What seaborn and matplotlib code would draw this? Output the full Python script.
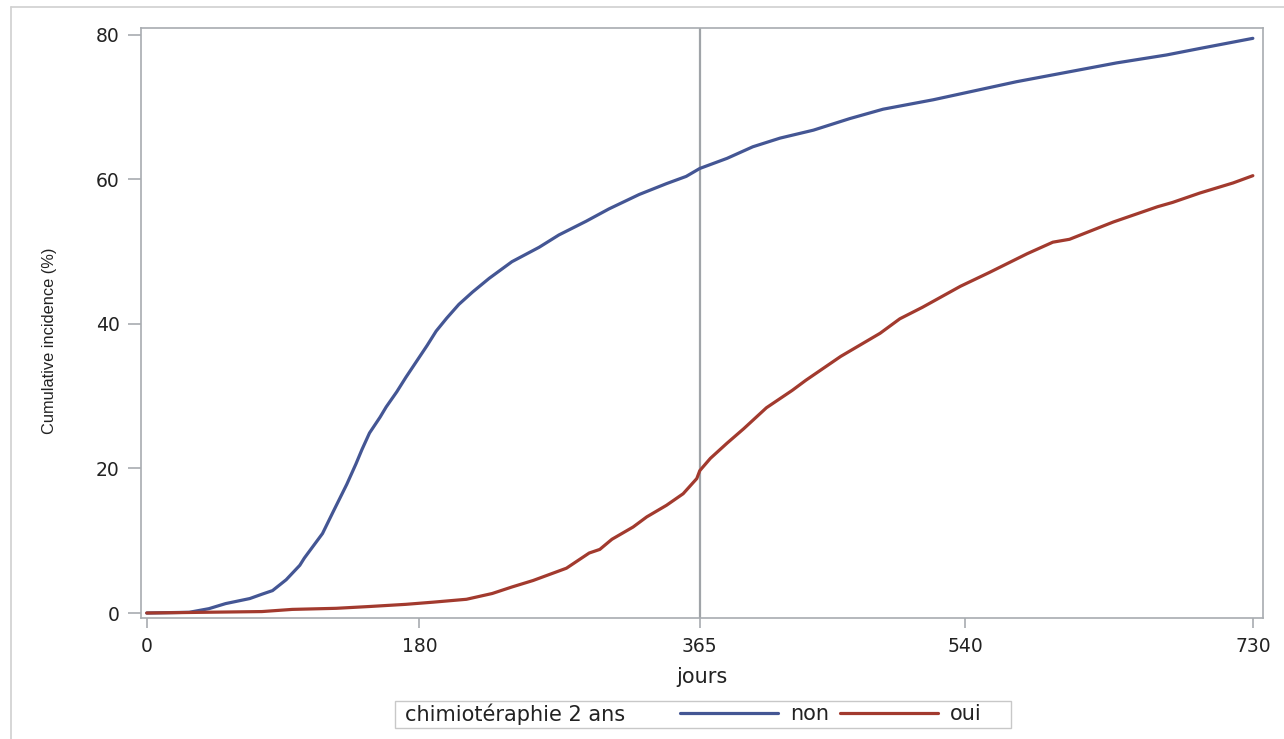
import pandas as pd
import matplotlib
matplotlib.use("Agg")
import matplotlib.pyplot as plt
from matplotlib.lines import Line2D
from matplotlib.patches import Rectangle
import seaborn as sns

# cumulative incidence (%), by day
days_non = [0, 28, 41, 52, 68, 76, 83, 92, 101, 104, 116, 123, 132, 138, 142,
            147, 154, 158, 165, 171, 178, 185, 191, 198, 206, 215, 226, 241,
            259, 272, 290, 305, 325, 343, 356, 365, 383, 400, 418, 440, 464,
            486, 519, 552, 574, 607, 640, 673, 695, 730]
incidence_non = [0, 0.1, 0.6, 1.3, 2.0, 2.6, 3.1, 4.6, 6.6, 7.6, 11.0, 14.0,
                 17.8, 20.6, 22.6, 24.9, 27.1, 28.5, 30.6, 32.6, 34.8, 37.0,
                 39.0, 40.8, 42.7, 44.4, 46.3, 48.6, 50.6, 52.3, 54.2, 55.9,
                 57.9, 59.4, 60.4, 61.5, 62.9, 64.5, 65.7, 66.8, 68.4, 69.7,
                 71.0, 72.5, 73.5, 74.8, 76.1, 77.2, 78.1, 79.5]

days_oui = [0, 76, 96, 125, 147, 171, 189, 211, 228, 241, 255, 277, 292, 299,
            307, 321, 330, 343, 354, 363, 365, 372, 383, 394, 409, 426, 435,
            458, 484, 497, 512, 537, 556, 581, 598, 609, 638, 667, 677, 695,
            717, 730]
incidence_oui = [0, 0.2, 0.5, 0.65, 0.9, 1.2, 1.5, 1.9, 2.7, 3.6, 4.5, 6.2,
                 8.3, 8.8, 10.2, 11.9, 13.3, 14.9, 16.5, 18.6, 19.7, 21.4,
                 23.5, 25.5, 28.4, 30.8, 32.2, 35.5, 38.7, 40.7, 42.3, 45.2,
                 47.1, 49.7, 51.3, 51.7, 54.1, 56.2, 56.8, 58.1, 59.5, 60.5]

groups = ["non", "oui"]
group_colors = ["#445694", "#A23A2E"]
x_ticks = [0, 180, 365, 540, 730]
y_ticks = [0, 20, 40, 60, 80]
landmark_day = 365
legend_title = "chimiotéraphie 2 ans"

sns.set_theme(style="white")
plt.rcParams['font.family'] = ['DejaVu Sans']

df = pd.concat([
    pd.DataFrame({"jours": days_non, "incidence": incidence_non, "chimio": "non"}),
    pd.DataFrame({"jours": days_oui, "incidence": incidence_oui, "chimio": "oui"}),
])
palette = dict(zip(groups, group_colors))
axis_gray = "#A8ACB0"
text_col = "#222222"

W, H = 1284, 739
fig = plt.figure(figsize=(W / 100, H / 100), dpi=100)
ax = fig.add_axes([141 / W, 1 - 618 / H, (1263 - 141) / W, (618 - 27.5) / H])

ax.axvline(landmark_day, color="#A0A4A8", linewidth=1.6, zorder=1)
sns.lineplot(data=df, x="jours", y="incidence", hue="chimio", palette=palette,
             linewidth=2.3, estimator=None, sort=False, legend=False, ax=ax,
             zorder=3)

ax.set_xlim(-3.8, 736.7)
ax.set_ylim(-0.69, 81.0)
ax.set_xticks(x_ticks)
ax.set_yticks(y_ticks)
for sp in ax.spines.values():
    sp.set_color(axis_gray)
    sp.set_linewidth(1.2)
ax.tick_params(axis="both", direction="out", color=axis_gray, width=1.2,
               labelsize=13.5, labelcolor=text_col, bottom=True, left=True)
ax.tick_params(axis="x", length=7.5, pad=6)
ax.tick_params(axis="y", length=9.5, pad=6)
ax.grid(False)

ax.set_xlabel("jours", fontsize=15, color=text_col)
ax.xaxis.set_label_coords(0.5, -0.083)
ax.set_ylabel("Cumulative incidence (%)", fontsize=11.8, color=text_col,
              family=["Liberation Sans"])
ax.yaxis.set_label_coords(-0.075, 0.47)

# legend: framed row with the title inline on the left
fig.patches.append(Rectangle((395 / W, 1 - 728 / H), (1011 - 395) / W, 27 / H,
                             transform=fig.transFigure, fill=False,
                             edgecolor="#C8C8C8", linewidth=1.0))
fig.text(405 / W, 1 - 714 / H, legend_title, fontsize=15, color=text_col,
         va="center", ha="left")
handles = [Line2D([], [], color=c, linewidth=2.3) for c in group_colors]
ax.legend(handles, groups, ncol=2, frameon=False, fontsize=15,
          loc="center left", bbox_to_anchor=(680 / W, 1 - 714 / H),
          bbox_transform=fig.transFigure, borderaxespad=0, borderpad=0,
          handlelength=4.7, handletextpad=0.6, columnspacing=0.5,
          labelcolor=text_col)

# thin outer frame (top and left edges)
fig.lines.append(Line2D([11 / W, 1], [1 - 7 / H, 1 - 7 / H],
                        transform=fig.transFigure, color="#D0D0D0", linewidth=1.2))
fig.lines.append(Line2D([11 / W, 11 / W], [0, 1 - 7 / H],
                        transform=fig.transFigure, color="#D0D0D0", linewidth=1.2))

fig.savefig("out.png", dpi=100)
